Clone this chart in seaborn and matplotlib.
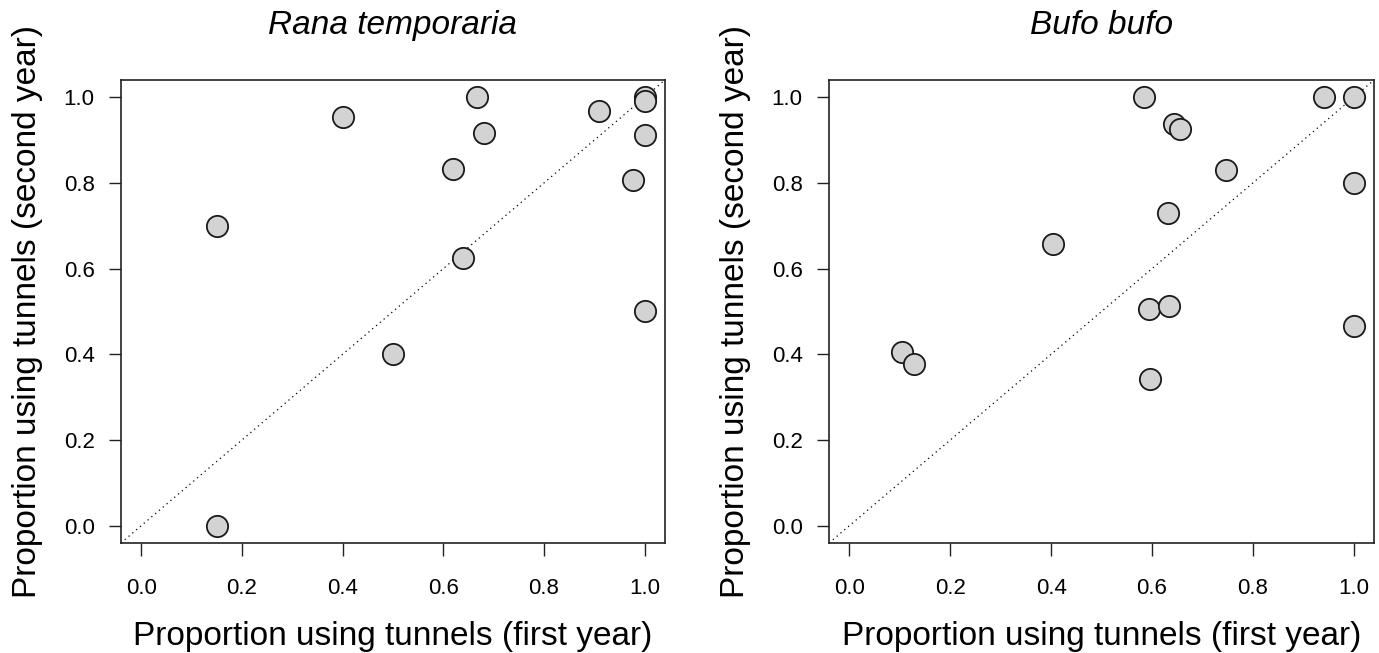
import numpy as np
import pandas as pd
import matplotlib
matplotlib.use("Agg")
import matplotlib.pyplot as plt
import seaborn as sns

# Rana temporaria: proportion of animals using tunnels, year 1 vs year 2
rana_first = [0.15, 0.15, 0.40, 0.50, 0.62, 0.667, 0.68, 0.64, 0.91, 0.976, 1.0, 1.0, 1.0, 1.0]
rana_second = [0.0, 0.70, 0.954, 0.40, 0.833, 1.0, 0.916, 0.625, 0.968, 0.807, 1.0, 0.99, 0.912, 0.50]

# Bufo bufo
bufo_first = [0.585, 0.94, 1.0, 0.643, 0.655, 0.746, 1.0, 0.631, 0.404, 0.594, 0.633, 1.0, 0.104, 0.129, 0.597]
bufo_second = [1.0, 1.0, 1.0, 0.937, 0.925, 0.831, 0.80, 0.730, 0.657, 0.506, 0.512, 0.465, 0.405, 0.377, 0.342]

ticks = [0.0, 0.2, 0.4, 0.6, 0.8, 1.0]
tick_labels = ["0.0", "0.2", "0.4", "0.6", "0.8", "1.0"]

sns.set_style("ticks")
plt.rcParams["font.family"] = ["Liberation Sans", "DejaVu Sans"]
plt.rcParams["text.color"] = "black"
plt.rcParams["axes.labelcolor"] = "black"
plt.rcParams["xtick.color"] = "black"
plt.rcParams["ytick.color"] = "black"

fig = plt.figure(figsize=(13.79, 6.53), dpi=100)
ax1 = fig.add_axes([0.0877, 0.1685, 0.3945, 0.7090])
ax2 = fig.add_axes([0.6012, 0.1685, 0.3952, 0.7090])

panels = [
    (ax1, rana_first, rana_second, "Rana temporaria"),
    (ax2, bufo_first, bufo_second, "Bufo bufo"),
]

for ax, xs, ys, title in panels:
    df = pd.DataFrame({"first": xs, "second": ys})
    # 1:1 reference line
    ax.axline((0, 0), (1, 1), color="black", linestyle=(0, (1, 3)), linewidth=0.9, zorder=1)
    sns.scatterplot(data=df, x="first", y="second", ax=ax, s=235,
                    color="#d3d3d3", edgecolor="#1a1a1a", linewidth=1.3, zorder=3)
    ax.set_xlim(-0.04, 1.04)
    ax.set_ylim(-0.04, 1.04)
    ax.set_xticks(ticks)
    ax.set_xticklabels(tick_labels)
    ax.set_yticks(ticks)
    ax.set_yticklabels(tick_labels)
    ax.tick_params(axis="x", length=9, width=1, pad=16, labelsize=16, color="#222222")
    ax.tick_params(axis="y", length=9, width=1, pad=10, labelsize=16, color="#222222")
    for sp in ax.spines.values():
        sp.set_visible(True)
        sp.set_linewidth(1.2)
        sp.set_color("#222222")
    ax.set_xlabel("Proportion using tunnels (first year)", fontsize=24, labelpad=16)
    ax.set_ylabel("Proportion using tunnels (second year)", fontsize=24, labelpad=15)
    ax.set_title(title, fontsize=24, style="italic", pad=33)

fig.savefig("out.png", dpi=100)
